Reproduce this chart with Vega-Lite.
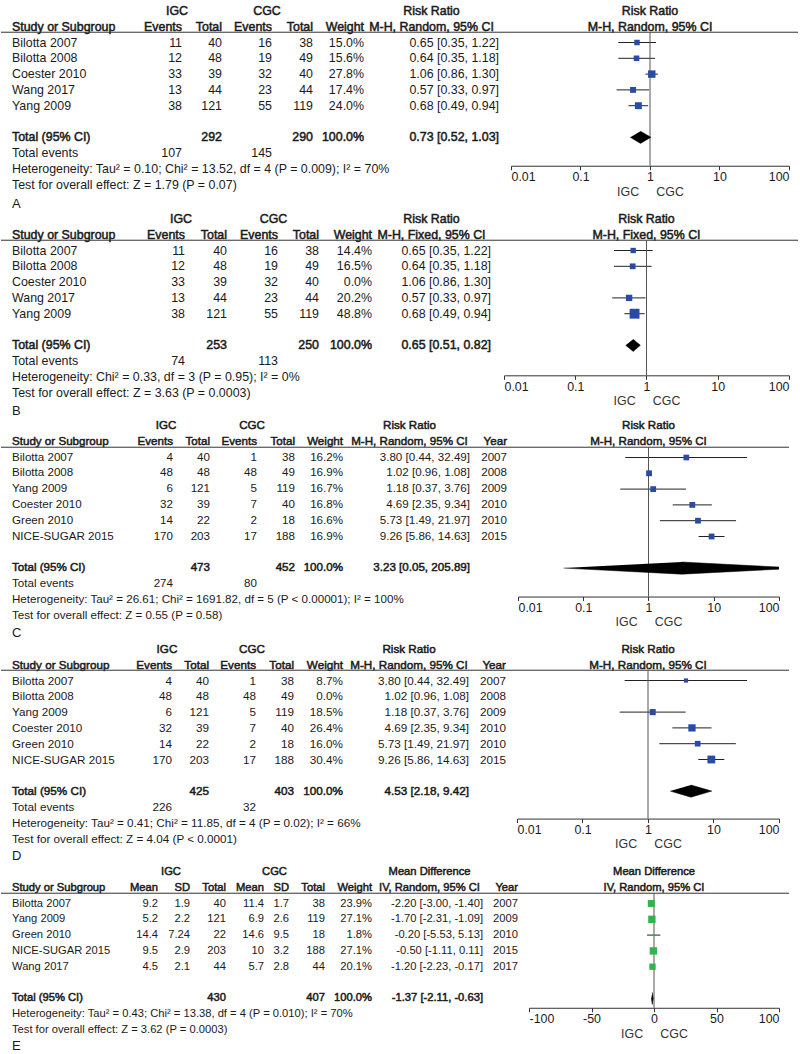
{
"$schema":"https://vega.github.io/schema/vega-lite/v6.json",
"padding":{"left":0,"top":3,"right":0,"bottom":0},
"background":"white",
"bounds":"full",
"spacing":0,
"datasets":{
"tA":[
{"row":"h1","n1":"IGC","n2":"CGC","ci":"Risk Ratio"},
{"row":"h2","study":"Study or Subgroup","e1":"Events","n1":"Total","e2":"Events","n2":"Total","w":"Weight","ci":"M-H, Random, 95% CI"},
{"row":"Bilotta 2007","study":"Bilotta 2007","e1":"11","n1":"40","e2":"16","n2":"38","w":"15.0%","ci":"0.65 [0.35, 1.22]"},
{"row":"Bilotta 2008","study":"Bilotta 2008","e1":"12","n1":"48","e2":"19","n2":"49","w":"15.6%","ci":"0.64 [0.35, 1.18]"},
{"row":"Coester 2010","study":"Coester 2010","e1":"33","n1":"39","e2":"32","n2":"40","w":"27.8%","ci":"1.06 [0.86, 1.30]"},
{"row":"Wang 2017","study":"Wang 2017","e1":"13","n1":"44","e2":"23","n2":"44","w":"17.4%","ci":"0.57 [0.33, 0.97]"},
{"row":"Yang 2009","study":"Yang 2009","e1":"38","n1":"121","e2":"55","n2":"119","w":"24.0%","ci":"0.68 [0.49, 0.94]"},
{"row":"Total (95% CI)","study":"Total (95% CI)","n1":"292","n2":"290","w":"100.0%","ci":"0.73 [0.52, 1.03]"},
{"row":"Total events","study":"Total events","e1":"107","e2":"145"},
{"row":"het","study":"Heterogeneity: Tau² = 0.10; Chi² = 13.52, df = 4 (P = 0.009); I² = 70%"},
{"row":"test","study":"Test for overall effect: Z = 1.79 (P = 0.07)"},
{"row":"lab","study":"A"}],
"tB":[
{"row":"h1","n1":"IGC","n2":"CGC","ci":"Risk Ratio"},
{"row":"h2","study":"Study or Subgroup","e1":"Events","n1":"Total","e2":"Events","n2":"Total","w":"Weight","ci":"M-H, Fixed, 95% CI"},
{"row":"Bilotta 2007","study":"Bilotta 2007","e1":"11","n1":"40","e2":"16","n2":"38","w":"14.4%","ci":"0.65 [0.35, 1.22]"},
{"row":"Bilotta 2008","study":"Bilotta 2008","e1":"12","n1":"48","e2":"19","n2":"49","w":"16.5%","ci":"0.64 [0.35, 1.18]"},
{"row":"Coester 2010","study":"Coester 2010","e1":"33","n1":"39","e2":"32","n2":"40","w":"0.0%","ci":"1.06 [0.86, 1.30]"},
{"row":"Wang 2017","study":"Wang 2017","e1":"13","n1":"44","e2":"23","n2":"44","w":"20.2%","ci":"0.57 [0.33, 0.97]"},
{"row":"Yang 2009","study":"Yang 2009","e1":"38","n1":"121","e2":"55","n2":"119","w":"48.8%","ci":"0.68 [0.49, 0.94]"},
{"row":"Total (95% CI)","study":"Total (95% CI)","n1":"253","n2":"250","w":"100.0%","ci":"0.65 [0.51, 0.82]"},
{"row":"Total events","study":"Total events","e1":"74","e2":"113"},
{"row":"het","study":"Heterogeneity: Chi² = 0.33, df = 3 (P = 0.95); I² = 0%"},
{"row":"test","study":"Test for overall effect: Z = 3.63 (P = 0.0003)"},
{"row":"lab","study":"B"}],
"tC":[
{"row":"h1","n1":"IGC","n2":"CGC","ci":"Risk Ratio"},
{"row":"h2","study":"Study or Subgroup","e1":"Events","n1":"Total","e2":"Events","n2":"Total","w":"Weight","ci":"M-H, Random, 95% CI","yr":"Year"},
{"row":"Bilotta 2007","study":"Bilotta 2007","e1":"4","n1":"40","e2":"1","n2":"38","w":"16.2%","ci":"3.80 [0.44, 32.49]","yr":"2007"},
{"row":"Bilotta 2008","study":"Bilotta 2008","e1":"48","n1":"48","e2":"48","n2":"49","w":"16.9%","ci":"1.02 [0.96, 1.08]","yr":"2008"},
{"row":"Yang 2009","study":"Yang 2009","e1":"6","n1":"121","e2":"5","n2":"119","w":"16.7%","ci":"1.18 [0.37, 3.76]","yr":"2009"},
{"row":"Coester 2010","study":"Coester 2010","e1":"32","n1":"39","e2":"7","n2":"40","w":"16.8%","ci":"4.69 [2.35, 9.34]","yr":"2010"},
{"row":"Green 2010","study":"Green 2010","e1":"14","n1":"22","e2":"2","n2":"18","w":"16.6%","ci":"5.73 [1.49, 21.97]","yr":"2010"},
{"row":"NICE-SUGAR 2015","study":"NICE-SUGAR 2015","e1":"170","n1":"203","e2":"17","n2":"188","w":"16.9%","ci":"9.26 [5.86, 14.63]","yr":"2015"},
{"row":"Total (95% CI)","study":"Total (95% CI)","n1":"473","n2":"452","w":"100.0%","ci":"3.23 [0.05, 205.89]"},
{"row":"Total events","study":"Total events","e1":"274","e2":"80"},
{"row":"het","study":"Heterogeneity: Tau² = 26.61; Chi² = 1691.82, df = 5 (P < 0.00001); I² = 100%"},
{"row":"test","study":"Test for overall effect: Z = 0.55 (P = 0.58)"},
{"row":"lab","study":"C"}],
"tD":[
{"row":"h1","n1":"IGC","n2":"CGC","ci":"Risk Ratio"},
{"row":"h2","study":"Study or Subgroup","e1":"Events","n1":"Total","e2":"Events","n2":"Total","w":"Weight","ci":"M-H, Random, 95% CI","yr":"Year"},
{"row":"Bilotta 2007","study":"Bilotta 2007","e1":"4","n1":"40","e2":"1","n2":"38","w":"8.7%","ci":"3.80 [0.44, 32.49]","yr":"2007"},
{"row":"Bilotta 2008","study":"Bilotta 2008","e1":"48","n1":"48","e2":"48","n2":"49","w":"0.0%","ci":"1.02 [0.96, 1.08]","yr":"2008"},
{"row":"Yang 2009","study":"Yang 2009","e1":"6","n1":"121","e2":"5","n2":"119","w":"18.5%","ci":"1.18 [0.37, 3.76]","yr":"2009"},
{"row":"Coester 2010","study":"Coester 2010","e1":"32","n1":"39","e2":"7","n2":"40","w":"26.4%","ci":"4.69 [2.35, 9.34]","yr":"2010"},
{"row":"Green 2010","study":"Green 2010","e1":"14","n1":"22","e2":"2","n2":"18","w":"16.0%","ci":"5.73 [1.49, 21.97]","yr":"2010"},
{"row":"NICE-SUGAR 2015","study":"NICE-SUGAR 2015","e1":"170","n1":"203","e2":"17","n2":"188","w":"30.4%","ci":"9.26 [5.86, 14.63]","yr":"2015"},
{"row":"Total (95% CI)","study":"Total (95% CI)","n1":"425","n2":"403","w":"100.0%","ci":"4.53 [2.18, 9.42]"},
{"row":"Total events","study":"Total events","e1":"226","e2":"32"},
{"row":"het","study":"Heterogeneity: Tau² = 0.41; Chi² = 11.85, df = 4 (P = 0.02); I² = 66%"},
{"row":"test","study":"Test for overall effect: Z = 4.04 (P < 0.0001)"},
{"row":"lab","study":"D"}],
"tE":[
{"row":"h1","s1":"IGC","s2":"CGC","ci":"Mean Difference"},
{"row":"h2","study":"Study or Subgroup","m1":"Mean","s1":"SD","n1":"Total","m2":"Mean","s2":"SD","n2":"Total","w":"Weight","ci":"IV, Random, 95% CI","yr":"Year"},
{"row":"Bilotta 2007","study":"Bilotta 2007","m1":"9.2","s1":"1.9","n1":"40","m2":"11.4","s2":"1.7","n2":"38","w":"23.9%","ci":"-2.20 [-3.00, -1.40]","yr":"2007"},
{"row":"Yang 2009","study":"Yang 2009","m1":"5.2","s1":"2.2","n1":"121","m2":"6.9","s2":"2.6","n2":"119","w":"27.1%","ci":"-1.70 [-2.31, -1.09]","yr":"2009"},
{"row":"Green 2010","study":"Green 2010","m1":"14.4","s1":"7.24","n1":"22","m2":"14.6","s2":"9.5","n2":"18","w":"1.8%","ci":"-0.20 [-5.53, 5.13]","yr":"2010"},
{"row":"NICE-SUGAR 2015","study":"NICE-SUGAR 2015","m1":"9.5","s1":"2.9","n1":"203","m2":"10","s2":"3.2","n2":"188","w":"27.1%","ci":"-0.50 [-1.11, 0.11]","yr":"2015"},
{"row":"Wang 2017","study":"Wang 2017","m1":"4.5","s1":"2.1","n1":"44","m2":"5.7","s2":"2.8","n2":"44","w":"20.1%","ci":"-1.20 [-2.23, -0.17]","yr":"2017"},
{"row":"Total (95% CI)","study":"Total (95% CI)","n1":"430","n2":"407","w":"100.0%","ci":"-1.37 [-2.11, -0.63]"},
{"row":"het","study":"Heterogeneity: Tau² = 0.43; Chi² = 13.38, df = 4 (P = 0.010); I² = 70%"},
{"row":"test","study":"Test for overall effect: Z = 3.62 (P = 0.0003)"},
{"row":"lab","study":"E"}],
"fA":[
{"row":"Bilotta 2007","est":0.65,"lo":0.35,"hi":1.22,"wt":15.0},
{"row":"Bilotta 2008","est":0.64,"lo":0.35,"hi":1.18,"wt":15.6},
{"row":"Coester 2010","est":1.06,"lo":0.86,"hi":1.30,"wt":27.8},
{"row":"Wang 2017","est":0.57,"lo":0.33,"hi":0.97,"wt":17.4},
{"row":"Yang 2009","est":0.68,"lo":0.49,"hi":0.94,"wt":24.0}],
"fB":[
{"row":"Bilotta 2007","est":0.65,"lo":0.35,"hi":1.22,"wt":14.4},
{"row":"Bilotta 2008","est":0.64,"lo":0.35,"hi":1.18,"wt":16.5},
{"row":"Coester 2010","est":1.06,"lo":0.86,"hi":1.30,"wt":0.0},
{"row":"Wang 2017","est":0.57,"lo":0.33,"hi":0.97,"wt":20.2},
{"row":"Yang 2009","est":0.68,"lo":0.49,"hi":0.94,"wt":48.8}],
"fC":[
{"row":"Bilotta 2007","est":3.80,"lo":0.44,"hi":32.49,"wt":16.2},
{"row":"Bilotta 2008","est":1.02,"lo":0.96,"hi":1.08,"wt":16.9},
{"row":"Yang 2009","est":1.18,"lo":0.37,"hi":3.76,"wt":16.7},
{"row":"Coester 2010","est":4.69,"lo":2.35,"hi":9.34,"wt":16.8},
{"row":"Green 2010","est":5.73,"lo":1.49,"hi":21.97,"wt":16.6},
{"row":"NICE-SUGAR 2015","est":9.26,"lo":5.86,"hi":14.63,"wt":16.9}],
"fD":[
{"row":"Bilotta 2007","est":3.80,"lo":0.44,"hi":32.49,"wt":8.7},
{"row":"Bilotta 2008","est":1.02,"lo":0.96,"hi":1.08,"wt":0.0},
{"row":"Yang 2009","est":1.18,"lo":0.37,"hi":3.76,"wt":18.5},
{"row":"Coester 2010","est":4.69,"lo":2.35,"hi":9.34,"wt":26.4},
{"row":"Green 2010","est":5.73,"lo":1.49,"hi":21.97,"wt":16.0},
{"row":"NICE-SUGAR 2015","est":9.26,"lo":5.86,"hi":14.63,"wt":30.4}],
"fE":[
{"row":"Bilotta 2007","est":-2.20,"lo":-3.00,"hi":-1.40,"wt":23.9},
{"row":"Yang 2009","est":-1.70,"lo":-2.31,"hi":-1.09,"wt":27.1},
{"row":"Green 2010","est":-0.20,"lo":-5.53,"hi":5.13,"wt":1.8},
{"row":"NICE-SUGAR 2015","est":-0.50,"lo":-1.11,"hi":0.11,"wt":27.1},
{"row":"Wang 2017","est":-1.20,"lo":-2.23,"hi":-0.17,"wt":20.1}],
"dA":[{"row":"Total (95% CI)","k":1,"x":0.52,"v":0},{"row":"Total (95% CI)","k":2,"x":0.73,"v":1},{"row":"Total (95% CI)","k":3,"x":1.03,"v":0},{"row":"Total (95% CI)","k":4,"x":0.73,"v":-1}],
"dB":[{"row":"Total (95% CI)","k":1,"x":0.51,"v":0},{"row":"Total (95% CI)","k":2,"x":0.65,"v":1},{"row":"Total (95% CI)","k":3,"x":0.82,"v":0},{"row":"Total (95% CI)","k":4,"x":0.65,"v":-1}],
"dC":[{"row":"Total (95% CI)","k":1,"x":0.05,"v":0},{"row":"Total (95% CI)","k":2,"x":3.23,"v":1},{"row":"Total (95% CI)","k":3,"x":205.89,"v":0},{"row":"Total (95% CI)","k":4,"x":3.23,"v":-1}],
"dD":[{"row":"Total (95% CI)","k":1,"x":2.18,"v":0},{"row":"Total (95% CI)","k":2,"x":4.53,"v":1},{"row":"Total (95% CI)","k":3,"x":9.42,"v":0},{"row":"Total (95% CI)","k":4,"x":4.53,"v":-1}],
"dE":[{"row":"Total (95% CI)","k":1,"x":-2.11,"v":0},{"row":"Total (95% CI)","k":2,"x":-1.37,"v":1},{"row":"Total (95% CI)","k":3,"x":-0.63,"v":0},{"row":"Total (95% CI)","k":4,"x":-1.37,"v":-1}]
},
"vconcat":[
{"spacing":0,"bounds":"flush","hconcat":[
{"width":142,"height":{"step":15.8},"data":{"name":"tA"},"layer":[
{"transform":[{"filter":"isValid(datum.study)&&datum.row!='lab'"}],"mark":{"type":"text","align":"left","dx":11,"stroke":"#1a1a1a"},"encoding":{"x":{"value":0},"y":{"field":"row","type":"nominal","bandPosition":0.5,"scale":{"type":"band","domain":["h1","h2","Bilotta 2007","Bilotta 2008","Coester 2010","Wang 2017","Yang 2009","gap","Total (95% CI)","Total events","het","test","lab"],"paddingInner":0,"paddingOuter":0.05,"align":0},"axis":null},"text":{"field":"study"},"strokeWidth":{"condition":{"test":"datum.row=='h2'||datum.row=='Total (95% CI)'","value":0.5},"value":0}}},
{"transform":[{"filter":"datum.row=='lab'"}],"mark":{"type":"text","align":"left","dx":11,"dy":3,"fontSize":13},"encoding":{"x":{"value":0},"y":{"field":"row","type":"nominal","bandPosition":0.5},"text":{"field":"study"}}},
{"data":{"values":[{}]},"mark":"rule","encoding":{"y":{"datum":"h2","type":"nominal","bandPosition":0.85}}}]},
{"width":39,"height":{"step":15.8},"data":{"name":"tA"},"layer":[
{"transform":[{"filter":"isValid(datum.e1)&&datum.row!='h1'"}],"mark":{"type":"text","align":"right","stroke":"#1a1a1a"},"encoding":{"x":{"value":"width"},"y":{"field":"row","type":"nominal","bandPosition":0.5,"scale":{"type":"band","domain":["h1","h2","Bilotta 2007","Bilotta 2008","Coester 2010","Wang 2017","Yang 2009","gap","Total (95% CI)","Total events","het","test","lab"],"paddingInner":0,"paddingOuter":0},"axis":null},"text":{"field":"e1"},"strokeWidth":{"condition":{"test":"datum.row=='h2'||datum.row=='Total (95% CI)'","value":0.5},"value":0}}},
{"data":{"values":[{}]},"mark":"rule","encoding":{"y":{"datum":"h2","type":"nominal","bandPosition":0.85}}}]},
{"width":40,"height":{"step":15.8},"data":{"name":"tA"},"layer":[
{"transform":[{"filter":"isValid(datum.n1)&&datum.row!='h1'"}],"mark":{"type":"text","align":"right","stroke":"#1a1a1a"},"encoding":{"x":{"value":"width"},"y":{"field":"row","type":"nominal","bandPosition":0.5,"scale":{"type":"band","domain":["h1","h2","Bilotta 2007","Bilotta 2008","Coester 2010","Wang 2017","Yang 2009","gap","Total (95% CI)","Total events","het","test","lab"],"paddingInner":0,"paddingOuter":0},"axis":null},"text":{"field":"n1"},"strokeWidth":{"condition":{"test":"datum.row=='h2'||datum.row=='Total (95% CI)'","value":0.5},"value":0}}},
{"transform":[{"filter":"datum.row=='h1'"}],"mark":{"type":"text","align":"center","dx":-5,"stroke":"#1a1a1a","strokeWidth":0.5},"encoding":{"x":{"value":0},"y":{"field":"row","type":"nominal","bandPosition":0.5},"text":{"field":"n1"}}},
{"data":{"values":[{}]},"mark":"rule","encoding":{"y":{"datum":"h2","type":"nominal","bandPosition":0.85}}}]},
{"width":50,"height":{"step":15.8},"data":{"name":"tA"},"layer":[
{"transform":[{"filter":"isValid(datum.e2)&&datum.row!='h1'"}],"mark":{"type":"text","align":"right","stroke":"#1a1a1a"},"encoding":{"x":{"value":"width"},"y":{"field":"row","type":"nominal","bandPosition":0.5,"scale":{"type":"band","domain":["h1","h2","Bilotta 2007","Bilotta 2008","Coester 2010","Wang 2017","Yang 2009","gap","Total (95% CI)","Total events","het","test","lab"],"paddingInner":0,"paddingOuter":0},"axis":null},"text":{"field":"e2"},"strokeWidth":{"condition":{"test":"datum.row=='h2'||datum.row=='Total (95% CI)'","value":0.5},"value":0}}},
{"data":{"values":[{}]},"mark":"rule","encoding":{"y":{"datum":"h2","type":"nominal","bandPosition":0.85}}}]},
{"width":41,"height":{"step":15.8},"data":{"name":"tA"},"layer":[
{"transform":[{"filter":"isValid(datum.n2)&&datum.row!='h1'"}],"mark":{"type":"text","align":"right","stroke":"#1a1a1a"},"encoding":{"x":{"value":"width"},"y":{"field":"row","type":"nominal","bandPosition":0.5,"scale":{"type":"band","domain":["h1","h2","Bilotta 2007","Bilotta 2008","Coester 2010","Wang 2017","Yang 2009","gap","Total (95% CI)","Total events","het","test","lab"],"paddingInner":0,"paddingOuter":0},"axis":null},"text":{"field":"n2"},"strokeWidth":{"condition":{"test":"datum.row=='h2'||datum.row=='Total (95% CI)'","value":0.5},"value":0}}},
{"transform":[{"filter":"datum.row=='h1'"}],"mark":{"type":"text","align":"center","dx":-5,"stroke":"#1a1a1a","strokeWidth":0.5},"encoding":{"x":{"value":0},"y":{"field":"row","type":"nominal","bandPosition":0.5},"text":{"field":"n2"}}},
{"data":{"values":[{}]},"mark":"rule","encoding":{"y":{"datum":"h2","type":"nominal","bandPosition":0.85}}}]},
{"width":51,"height":{"step":15.8},"data":{"name":"tA"},"layer":[
{"transform":[{"filter":"isValid(datum.w)&&datum.row!='h1'"}],"mark":{"type":"text","align":"right","stroke":"#1a1a1a"},"encoding":{"x":{"value":"width"},"y":{"field":"row","type":"nominal","bandPosition":0.5,"scale":{"type":"band","domain":["h1","h2","Bilotta 2007","Bilotta 2008","Coester 2010","Wang 2017","Yang 2009","gap","Total (95% CI)","Total events","het","test","lab"],"paddingInner":0,"paddingOuter":0},"axis":null},"text":{"field":"w"},"strokeWidth":{"condition":{"test":"datum.row=='h2'||datum.row=='Total (95% CI)'","value":0.5},"value":0}}},
{"data":{"values":[{}]},"mark":"rule","encoding":{"y":{"datum":"h2","type":"nominal","bandPosition":0.85}}}]},
{"width":135,"height":{"step":15.8},"data":{"name":"tA"},"layer":[
{"transform":[{"filter":"isValid(datum.ci)&&datum.row!='h1'&&datum.row!='h2'"}],"mark":{"type":"text","align":"right","stroke":"#1a1a1a"},"encoding":{"x":{"value":"width"},"y":{"field":"row","type":"nominal","bandPosition":0.5,"scale":{"type":"band","domain":["h1","h2","Bilotta 2007","Bilotta 2008","Coester 2010","Wang 2017","Yang 2009","gap","Total (95% CI)","Total events","het","test","lab"],"paddingInner":0,"paddingOuter":0},"axis":null},"text":{"field":"ci"},"strokeWidth":{"condition":{"test":"datum.row=='h2'||datum.row=='Total (95% CI)'","value":0.5},"value":0}}},
{"transform":[{"filter":"datum.row=='h1'||datum.row=='h2'"}],"mark":{"type":"text","align":"center","stroke":"#1a1a1a","strokeWidth":0.5},"encoding":{"y":{"field":"row","type":"nominal","bandPosition":0.5},"text":{"field":"ci"}}},
{"data":{"values":[{}]},"mark":"rule","encoding":{"y":{"datum":"h2","type":"nominal","bandPosition":0.85}}}]},
{"width":12,"height":{"step":15.8},"data":{"values":[{}]},"mark":"rule","encoding":{"y":{"datum":"h2","type":"nominal","bandPosition":0.85,"scale":{"type":"band","domain":["h1","h2","Bilotta 2007","Bilotta 2008","Coester 2010","Wang 2017","Yang 2009","gap","Total (95% CI)","Total events","het","test","lab"],"paddingInner":0,"paddingOuter":0},"axis":null}}},
{"width":278,"height":{"step":15.8},"layer":[
{"data":{"name":"tA"},"transform":[{"filter":"datum.row=='h1'||datum.row=='h2'"}],"mark":{"type":"text","align":"center","stroke":"#1a1a1a","strokeWidth":0.5},"encoding":{"y":{"field":"row","type":"nominal","bandPosition":0.5,"scale":{"type":"band","domain":["h1","h2","Bilotta 2007","Bilotta 2008","Coester 2010","Wang 2017","Yang 2009","gap","Total (95% CI)","Total events"],"paddingInner":0,"paddingOuter":0.15,"align":0},"axis":null},"text":{"field":"ci"}}},
{"data":{"values":[{}]},"mark":"rule","encoding":{"y":{"datum":"h2","type":"nominal","bandPosition":0.85}}},
{"data":{"name":"fA"},"transform":[{"filter":"datum.wt>0"}],"mark":{"type":"rule","color":"#222"},"encoding":{"x":{"field":"lo","type":"quantitative","title":"IGC\u00a0\u00a0\u00a0\u00a0\u00a0CGC","scale":{"type":"log","domain":[0.01,100],"nice":false},"axis":{"values":[0.01,0.1,1,10,100],"format":"~g"}},"x2":{"field":"hi"},"y":{"field":"row","type":"nominal","bandPosition":0.5}}},
{"data":{"values":[{}]},"mark":{"type":"rule","color":"#555"},"encoding":{"x":{"datum":1,"type":"quantitative","title":"IGC\u00a0\u00a0\u00a0\u00a0\u00a0CGC"},"y":{"datum":"h2","type":"nominal","bandPosition":0.85},"y2":{"value":"height"}}},
{"data":{"name":"fA"},"transform":[{"filter":"datum.wt>0"}],"mark":{"type":"square","color":"#2a4aa8","opacity":1},"encoding":{"x":{"field":"est","type":"quantitative","title":"IGC\u00a0\u00a0\u00a0\u00a0\u00a0CGC"},"y":{"field":"row","type":"nominal","bandPosition":0.5},"size":{"field":"wt","type":"quantitative","scale":{"domain":[0,100],"range":[0,200]},"legend":null}}},
{"data":{"name":"dA"},"mark":{"type":"line","filled":true,"fill":"#000","stroke":"#000","strokeWidth":0.5,"clip":true},"encoding":{"x":{"field":"x","type":"quantitative","title":"IGC\u00a0\u00a0\u00a0\u00a0\u00a0CGC"},"y":{"field":"row","type":"nominal"},"yOffset":{"field":"v","type":"quantitative","scale":{"domain":[-1.3,1.3]}},"order":{"field":"k"}}}]},
{"width":9,"height":{"step":15.8},"data":{"values":[{}]},"mark":"rule","encoding":{"y":{"datum":"h2","type":"nominal","bandPosition":0.85,"scale":{"type":"band","domain":["h1","h2","Bilotta 2007","Bilotta 2008","Coester 2010","Wang 2017","Yang 2009","gap","Total (95% CI)","Total events","het","test","lab"],"paddingInner":0,"paddingOuter":0},"axis":null}}}
]},

{"spacing":0,"bounds":"flush","hconcat":[
{"width":145,"height":{"step":15.8},"data":{"name":"tB"},"layer":[
{"transform":[{"filter":"isValid(datum.study)&&datum.row!='lab'"}],"mark":{"type":"text","align":"left","dx":11,"stroke":"#1a1a1a"},"encoding":{"x":{"value":0},"y":{"field":"row","type":"nominal","bandPosition":0.5,"scale":{"type":"band","domain":["h1","h2","Bilotta 2007","Bilotta 2008","Coester 2010","Wang 2017","Yang 2009","gap","Total (95% CI)","Total events","het","test","lab"],"paddingInner":0,"paddingOuter":0.05,"align":0},"axis":null},"text":{"field":"study"},"strokeWidth":{"condition":{"test":"datum.row=='h2'||datum.row=='Total (95% CI)'","value":0.5},"value":0}}},
{"transform":[{"filter":"datum.row=='lab'"}],"mark":{"type":"text","align":"left","dx":11,"dy":2.5,"fontSize":13},"encoding":{"x":{"value":0},"y":{"field":"row","type":"nominal","bandPosition":0.5},"text":{"field":"study"}}},
{"data":{"values":[{}]},"mark":"rule","encoding":{"y":{"datum":"h2","type":"nominal","bandPosition":0.85}}}]},
{"width":39,"height":{"step":15.8},"data":{"name":"tB"},"layer":[
{"transform":[{"filter":"isValid(datum.e1)&&datum.row!='h1'"}],"mark":{"type":"text","align":"right","stroke":"#1a1a1a"},"encoding":{"x":{"value":"width"},"y":{"field":"row","type":"nominal","bandPosition":0.5,"scale":{"type":"band","domain":["h1","h2","Bilotta 2007","Bilotta 2008","Coester 2010","Wang 2017","Yang 2009","gap","Total (95% CI)","Total events","het","test","lab"],"paddingInner":0,"paddingOuter":0},"axis":null},"text":{"field":"e1"},"strokeWidth":{"condition":{"test":"datum.row=='h2'||datum.row=='Total (95% CI)'","value":0.5},"value":0}}},
{"data":{"values":[{}]},"mark":"rule","encoding":{"y":{"datum":"h2","type":"nominal","bandPosition":0.85}}}]},
{"width":42,"height":{"step":15.8},"data":{"name":"tB"},"layer":[
{"transform":[{"filter":"isValid(datum.n1)&&datum.row!='h1'"}],"mark":{"type":"text","align":"right","stroke":"#1a1a1a"},"encoding":{"x":{"value":"width"},"y":{"field":"row","type":"nominal","bandPosition":0.5,"scale":{"type":"band","domain":["h1","h2","Bilotta 2007","Bilotta 2008","Coester 2010","Wang 2017","Yang 2009","gap","Total (95% CI)","Total events","het","test","lab"],"paddingInner":0,"paddingOuter":0},"axis":null},"text":{"field":"n1"},"strokeWidth":{"condition":{"test":"datum.row=='h2'||datum.row=='Total (95% CI)'","value":0.5},"value":0}}},
{"transform":[{"filter":"datum.row=='h1'"}],"mark":{"type":"text","align":"center","dx":-4,"stroke":"#1a1a1a","strokeWidth":0.5},"encoding":{"x":{"value":0},"y":{"field":"row","type":"nominal","bandPosition":0.5},"text":{"field":"n1"}}},
{"data":{"values":[{}]},"mark":"rule","encoding":{"y":{"datum":"h2","type":"nominal","bandPosition":0.85}}}]},
{"width":51,"height":{"step":15.8},"data":{"name":"tB"},"layer":[
{"transform":[{"filter":"isValid(datum.e2)&&datum.row!='h1'"}],"mark":{"type":"text","align":"right","stroke":"#1a1a1a"},"encoding":{"x":{"value":"width"},"y":{"field":"row","type":"nominal","bandPosition":0.5,"scale":{"type":"band","domain":["h1","h2","Bilotta 2007","Bilotta 2008","Coester 2010","Wang 2017","Yang 2009","gap","Total (95% CI)","Total events","het","test","lab"],"paddingInner":0,"paddingOuter":0},"axis":null},"text":{"field":"e2"},"strokeWidth":{"condition":{"test":"datum.row=='h2'||datum.row=='Total (95% CI)'","value":0.5},"value":0}}},
{"data":{"values":[{}]},"mark":"rule","encoding":{"y":{"datum":"h2","type":"nominal","bandPosition":0.85}}}]},
{"width":41,"height":{"step":15.8},"data":{"name":"tB"},"layer":[
{"transform":[{"filter":"isValid(datum.n2)&&datum.row!='h1'"}],"mark":{"type":"text","align":"right","stroke":"#1a1a1a"},"encoding":{"x":{"value":"width"},"y":{"field":"row","type":"nominal","bandPosition":0.5,"scale":{"type":"band","domain":["h1","h2","Bilotta 2007","Bilotta 2008","Coester 2010","Wang 2017","Yang 2009","gap","Total (95% CI)","Total events","het","test","lab"],"paddingInner":0,"paddingOuter":0},"axis":null},"text":{"field":"n2"},"strokeWidth":{"condition":{"test":"datum.row=='h2'||datum.row=='Total (95% CI)'","value":0.5},"value":0}}},
{"transform":[{"filter":"datum.row=='h1'"}],"mark":{"type":"text","align":"center","dx":-4.5,"stroke":"#1a1a1a","strokeWidth":0.5},"encoding":{"x":{"value":0},"y":{"field":"row","type":"nominal","bandPosition":0.5},"text":{"field":"n2"}}},
{"data":{"values":[{}]},"mark":"rule","encoding":{"y":{"datum":"h2","type":"nominal","bandPosition":0.85}}}]},
{"width":53,"height":{"step":15.8},"data":{"name":"tB"},"layer":[
{"transform":[{"filter":"isValid(datum.w)&&datum.row!='h1'"}],"mark":{"type":"text","align":"right","stroke":"#1a1a1a"},"encoding":{"x":{"value":"width"},"y":{"field":"row","type":"nominal","bandPosition":0.5,"scale":{"type":"band","domain":["h1","h2","Bilotta 2007","Bilotta 2008","Coester 2010","Wang 2017","Yang 2009","gap","Total (95% CI)","Total events","het","test","lab"],"paddingInner":0,"paddingOuter":0},"axis":null},"text":{"field":"w"},"strokeWidth":{"condition":{"test":"datum.row=='h2'||datum.row=='Total (95% CI)'","value":0.5},"value":0}}},
{"data":{"values":[{}]},"mark":"rule","encoding":{"y":{"datum":"h2","type":"nominal","bandPosition":0.85}}}]},
{"width":119,"height":{"step":15.8},"data":{"name":"tB"},"layer":[
{"transform":[{"filter":"isValid(datum.ci)&&datum.row!='h1'&&datum.row!='h2'"}],"mark":{"type":"text","align":"right","stroke":"#1a1a1a"},"encoding":{"x":{"value":"width"},"y":{"field":"row","type":"nominal","bandPosition":0.5,"scale":{"type":"band","domain":["h1","h2","Bilotta 2007","Bilotta 2008","Coester 2010","Wang 2017","Yang 2009","gap","Total (95% CI)","Total events","het","test","lab"],"paddingInner":0,"paddingOuter":0},"axis":null},"text":{"field":"ci"},"strokeWidth":{"condition":{"test":"datum.row=='h2'||datum.row=='Total (95% CI)'","value":0.5},"value":0}}},
{"transform":[{"filter":"datum.row=='h1'||datum.row=='h2'"}],"mark":{"type":"text","align":"center","stroke":"#1a1a1a","strokeWidth":0.5},"encoding":{"y":{"field":"row","type":"nominal","bandPosition":0.5},"text":{"field":"ci"}}},
{"data":{"values":[{}]},"mark":"rule","encoding":{"y":{"datum":"h2","type":"nominal","bandPosition":0.85}}}]},
{"width":13,"height":{"step":15.8},"data":{"values":[{}]},"mark":"rule","encoding":{"y":{"datum":"h2","type":"nominal","bandPosition":0.85,"scale":{"type":"band","domain":["h1","h2","Bilotta 2007","Bilotta 2008","Coester 2010","Wang 2017","Yang 2009","gap","Total (95% CI)","Total events","het","test","lab"],"paddingInner":0,"paddingOuter":0},"axis":null}}},
{"width":285,"height":{"step":15.8},"layer":[
{"data":{"name":"tB"},"transform":[{"filter":"datum.row=='h1'||datum.row=='h2'"}],"mark":{"type":"text","align":"center","stroke":"#1a1a1a","strokeWidth":0.5},"encoding":{"y":{"field":"row","type":"nominal","bandPosition":0.5,"scale":{"type":"band","domain":["h1","h2","Bilotta 2007","Bilotta 2008","Coester 2010","Wang 2017","Yang 2009","gap","Total (95% CI)","Total events"],"paddingInner":0,"paddingOuter":0.2,"align":0},"axis":null},"text":{"field":"ci"}}},
{"data":{"values":[{}]},"mark":"rule","encoding":{"y":{"datum":"h2","type":"nominal","bandPosition":0.85}}},
{"data":{"name":"fB"},"transform":[{"filter":"datum.wt>0"}],"mark":{"type":"rule","color":"#222"},"encoding":{"x":{"field":"lo","type":"quantitative","title":"IGC\u00a0\u00a0\u00a0\u00a0\u00a0CGC","scale":{"type":"log","domain":[0.01,100],"nice":false},"axis":{"values":[0.01,0.1,1,10,100],"format":"~g"}},"x2":{"field":"hi"},"y":{"field":"row","type":"nominal","bandPosition":0.5}}},
{"data":{"values":[{}]},"mark":{"type":"rule","color":"#555"},"encoding":{"x":{"datum":1,"type":"quantitative","title":"IGC\u00a0\u00a0\u00a0\u00a0\u00a0CGC"},"y":{"datum":"h2","type":"nominal","bandPosition":0.85},"y2":{"value":"height"}}},
{"data":{"name":"fB"},"transform":[{"filter":"datum.wt>0"}],"mark":{"type":"square","color":"#2a4aa8","opacity":1},"encoding":{"x":{"field":"est","type":"quantitative","title":"IGC\u00a0\u00a0\u00a0\u00a0\u00a0CGC"},"y":{"field":"row","type":"nominal","bandPosition":0.5},"size":{"field":"wt","type":"quantitative","scale":{"domain":[0,100],"range":[0,200]},"legend":null}}},
{"data":{"name":"dB"},"mark":{"type":"line","filled":true,"fill":"#000","stroke":"#000","strokeWidth":0.5,"clip":true},"encoding":{"x":{"field":"x","type":"quantitative","title":"IGC\u00a0\u00a0\u00a0\u00a0\u00a0CGC"},"y":{"field":"row","type":"nominal"},"yOffset":{"field":"v","type":"quantitative","scale":{"domain":[-1.3,1.3]}},"order":{"field":"k"}}}]},
{"width":9,"height":{"step":15.8},"data":{"values":[{}]},"mark":"rule","encoding":{"y":{"datum":"h2","type":"nominal","bandPosition":0.85,"scale":{"type":"band","domain":["h1","h2","Bilotta 2007","Bilotta 2008","Coester 2010","Wang 2017","Yang 2009","gap","Total (95% CI)","Total events","het","test","lab"],"paddingInner":0,"paddingOuter":0},"axis":null}}}
]},

{"spacing":0,"bounds":"flush","hconcat":[
{"width":135,"height":{"step":15.8},"data":{"name":"tC"},"layer":[
{"transform":[{"filter":"isValid(datum.study)&&datum.row!='lab'"}],"mark":{"type":"text","align":"left","dx":11,"stroke":"#1a1a1a","fontSize":11.6},"encoding":{"x":{"value":0},"y":{"field":"row","type":"nominal","bandPosition":0.5,"scale":{"type":"band","domain":["h1","h2","Bilotta 2007","Bilotta 2008","Yang 2009","Coester 2010","Green 2010","NICE-SUGAR 2015","gap","Total (95% CI)","Total events","het","test","lab"],"paddingInner":0,"paddingOuter":0.025,"align":0},"axis":null},"text":{"field":"study"},"strokeWidth":{"condition":{"test":"datum.row=='h2'||datum.row=='Total (95% CI)'","value":0.5},"value":0}}},
{"transform":[{"filter":"datum.row=='lab'"}],"mark":{"type":"text","align":"left","dx":11,"dy":2,"fontSize":13},"encoding":{"x":{"value":0},"y":{"field":"row","type":"nominal","bandPosition":0.5},"text":{"field":"study"}}},
{"data":{"values":[{}]},"mark":"rule","encoding":{"y":{"datum":"h2","type":"nominal","bandPosition":0.85}}}]},
{"width":37,"height":{"step":15.8},"data":{"name":"tC"},"layer":[
{"transform":[{"filter":"isValid(datum.e1)&&datum.row!='h1'"}],"mark":{"type":"text","align":"right","stroke":"#1a1a1a","fontSize":11.6},"encoding":{"x":{"value":"width"},"y":{"field":"row","type":"nominal","bandPosition":0.5,"scale":{"type":"band","domain":["h1","h2","Bilotta 2007","Bilotta 2008","Yang 2009","Coester 2010","Green 2010","NICE-SUGAR 2015","gap","Total (95% CI)","Total events","het","test","lab"],"paddingInner":0,"paddingOuter":0},"axis":null},"text":{"field":"e1"},"strokeWidth":{"condition":{"test":"datum.row=='h2'||datum.row=='Total (95% CI)'","value":0.5},"value":0}}},
{"data":{"values":[{}]},"mark":"rule","encoding":{"y":{"datum":"h2","type":"nominal","bandPosition":0.85}}}]},
{"width":37,"height":{"step":15.8},"data":{"name":"tC"},"layer":[
{"transform":[{"filter":"isValid(datum.n1)&&datum.row!='h1'"}],"mark":{"type":"text","align":"right","stroke":"#1a1a1a","fontSize":11.6},"encoding":{"x":{"value":"width"},"y":{"field":"row","type":"nominal","bandPosition":0.5,"scale":{"type":"band","domain":["h1","h2","Bilotta 2007","Bilotta 2008","Yang 2009","Coester 2010","Green 2010","NICE-SUGAR 2015","gap","Total (95% CI)","Total events","het","test","lab"],"paddingInner":0,"paddingOuter":0},"axis":null},"text":{"field":"n1"},"strokeWidth":{"condition":{"test":"datum.row=='h2'||datum.row=='Total (95% CI)'","value":0.5},"value":0}}},
{"transform":[{"filter":"datum.row=='h1'"}],"mark":{"type":"text","align":"center","dx":-7,"stroke":"#1a1a1a","strokeWidth":0.5,"fontSize":11.6},"encoding":{"x":{"value":0},"y":{"field":"row","type":"nominal","bandPosition":0.5},"text":{"field":"n1"}}},
{"data":{"values":[{}]},"mark":"rule","encoding":{"y":{"datum":"h2","type":"nominal","bandPosition":0.85}}}]},
{"width":47,"height":{"step":15.8},"data":{"name":"tC"},"layer":[
{"transform":[{"filter":"isValid(datum.e2)&&datum.row!='h1'"}],"mark":{"type":"text","align":"right","stroke":"#1a1a1a","fontSize":11.6},"encoding":{"x":{"value":"width"},"y":{"field":"row","type":"nominal","bandPosition":0.5,"scale":{"type":"band","domain":["h1","h2","Bilotta 2007","Bilotta 2008","Yang 2009","Coester 2010","Green 2010","NICE-SUGAR 2015","gap","Total (95% CI)","Total events","het","test","lab"],"paddingInner":0,"paddingOuter":0},"axis":null},"text":{"field":"e2"},"strokeWidth":{"condition":{"test":"datum.row=='h2'||datum.row=='Total (95% CI)'","value":0.5},"value":0}}},
{"data":{"values":[{}]},"mark":"rule","encoding":{"y":{"datum":"h2","type":"nominal","bandPosition":0.85}}}]},
{"width":38,"height":{"step":15.8},"data":{"name":"tC"},"layer":[
{"transform":[{"filter":"isValid(datum.n2)&&datum.row!='h1'"}],"mark":{"type":"text","align":"right","stroke":"#1a1a1a","fontSize":11.6},"encoding":{"x":{"value":"width"},"y":{"field":"row","type":"nominal","bandPosition":0.5,"scale":{"type":"band","domain":["h1","h2","Bilotta 2007","Bilotta 2008","Yang 2009","Coester 2010","Green 2010","NICE-SUGAR 2015","gap","Total (95% CI)","Total events","het","test","lab"],"paddingInner":0,"paddingOuter":0},"axis":null},"text":{"field":"n2"},"strokeWidth":{"condition":{"test":"datum.row=='h2'||datum.row=='Total (95% CI)'","value":0.5},"value":0}}},
{"transform":[{"filter":"datum.row=='h1'"}],"mark":{"type":"text","align":"center","dx":-5,"stroke":"#1a1a1a","strokeWidth":0.5,"fontSize":11.6},"encoding":{"x":{"value":0},"y":{"field":"row","type":"nominal","bandPosition":0.5},"text":{"field":"n2"}}},
{"data":{"values":[{}]},"mark":"rule","encoding":{"y":{"datum":"h2","type":"nominal","bandPosition":0.85}}}]},
{"width":48,"height":{"step":15.8},"data":{"name":"tC"},"layer":[
{"transform":[{"filter":"isValid(datum.w)&&datum.row!='h1'"}],"mark":{"type":"text","align":"right","stroke":"#1a1a1a","fontSize":11.6},"encoding":{"x":{"value":"width"},"y":{"field":"row","type":"nominal","bandPosition":0.5,"scale":{"type":"band","domain":["h1","h2","Bilotta 2007","Bilotta 2008","Yang 2009","Coester 2010","Green 2010","NICE-SUGAR 2015","gap","Total (95% CI)","Total events","het","test","lab"],"paddingInner":0,"paddingOuter":0},"axis":null},"text":{"field":"w"},"strokeWidth":{"condition":{"test":"datum.row=='h2'||datum.row=='Total (95% CI)'","value":0.5},"value":0}}},
{"data":{"values":[{}]},"mark":"rule","encoding":{"y":{"datum":"h2","type":"nominal","bandPosition":0.85}}}]},
{"width":127,"height":{"step":15.8},"data":{"name":"tC"},"layer":[
{"transform":[{"filter":"isValid(datum.ci)&&datum.row!='h1'&&datum.row!='h2'"}],"mark":{"type":"text","align":"right","stroke":"#1a1a1a","fontSize":11.6},"encoding":{"x":{"value":"width"},"y":{"field":"row","type":"nominal","bandPosition":0.5,"scale":{"type":"band","domain":["h1","h2","Bilotta 2007","Bilotta 2008","Yang 2009","Coester 2010","Green 2010","NICE-SUGAR 2015","gap","Total (95% CI)","Total events","het","test","lab"],"paddingInner":0,"paddingOuter":0},"axis":null},"text":{"field":"ci"},"strokeWidth":{"condition":{"test":"datum.row=='h2'||datum.row=='Total (95% CI)'","value":0.5},"value":0}}},
{"transform":[{"filter":"datum.row=='h1'||datum.row=='h2'"}],"mark":{"type":"text","align":"center","dx":3,"stroke":"#1a1a1a","strokeWidth":0.5,"fontSize":11.6},"encoding":{"y":{"field":"row","type":"nominal","bandPosition":0.5},"text":{"field":"ci"}}},
{"data":{"values":[{}]},"mark":"rule","encoding":{"y":{"datum":"h2","type":"nominal","bandPosition":0.85}}}]},
{"width":37,"height":{"step":15.8},"data":{"name":"tC"},"layer":[
{"transform":[{"filter":"isValid(datum.yr)&&datum.row!='h1'"}],"mark":{"type":"text","align":"right","stroke":"#1a1a1a","fontSize":11.6},"encoding":{"x":{"value":"width"},"y":{"field":"row","type":"nominal","bandPosition":0.5,"scale":{"type":"band","domain":["h1","h2","Bilotta 2007","Bilotta 2008","Yang 2009","Coester 2010","Green 2010","NICE-SUGAR 2015","gap","Total (95% CI)","Total events","het","test","lab"],"paddingInner":0,"paddingOuter":0},"axis":null},"text":{"field":"yr"},"strokeWidth":{"condition":{"test":"datum.row=='h2'||datum.row=='Total (95% CI)'","value":0.5},"value":0}}},
{"data":{"values":[{}]},"mark":"rule","encoding":{"y":{"datum":"h2","type":"nominal","bandPosition":0.85}}}]},
{"width":11,"height":{"step":15.8},"data":{"values":[{}]},"mark":"rule","encoding":{"y":{"datum":"h2","type":"nominal","bandPosition":0.85,"scale":{"type":"band","domain":["h1","h2","Bilotta 2007","Bilotta 2008","Yang 2009","Coester 2010","Green 2010","NICE-SUGAR 2015","gap","Total (95% CI)","Total events","het","test","lab"],"paddingInner":0,"paddingOuter":0},"axis":null}}},
{"width":261,"height":{"step":15.8},"layer":[
{"data":{"name":"tC"},"transform":[{"filter":"datum.row=='h1'||datum.row=='h2'"}],"mark":{"type":"text","align":"center","stroke":"#1a1a1a","strokeWidth":0.5,"fontSize":11.6},"encoding":{"y":{"field":"row","type":"nominal","bandPosition":0.5,"scale":{"type":"band","domain":["h1","h2","Bilotta 2007","Bilotta 2008","Yang 2009","Coester 2010","Green 2010","NICE-SUGAR 2015","gap","Total (95% CI)","Total events"],"paddingInner":0,"paddingOuter":0.15,"align":0},"axis":null},"text":{"field":"ci"}}},
{"data":{"values":[{}]},"mark":"rule","encoding":{"y":{"datum":"h2","type":"nominal","bandPosition":0.85}}},
{"data":{"name":"fC"},"transform":[{"filter":"datum.wt>0"}],"mark":{"type":"rule","color":"#222"},"encoding":{"x":{"field":"lo","type":"quantitative","title":"IGC\u00a0\u00a0\u00a0\u00a0\u00a0CGC","scale":{"type":"log","domain":[0.01,100],"nice":false},"axis":{"values":[0.01,0.1,1,10,100],"format":"~g"}},"x2":{"field":"hi"},"y":{"field":"row","type":"nominal","bandPosition":0.5}}},
{"data":{"values":[{}]},"mark":{"type":"rule","color":"#555"},"encoding":{"x":{"datum":1,"type":"quantitative","title":"IGC\u00a0\u00a0\u00a0\u00a0\u00a0CGC"},"y":{"datum":"h2","type":"nominal","bandPosition":0.85},"y2":{"value":"height"}}},
{"data":{"name":"fC"},"transform":[{"filter":"datum.wt>0"}],"mark":{"type":"square","color":"#2a4aa8","opacity":1},"encoding":{"x":{"field":"est","type":"quantitative","title":"IGC\u00a0\u00a0\u00a0\u00a0\u00a0CGC"},"y":{"field":"row","type":"nominal","bandPosition":0.5},"size":{"field":"wt","type":"quantitative","scale":{"domain":[0,100],"range":[0,200]},"legend":null}}},
{"data":{"name":"dC"},"mark":{"type":"line","filled":true,"fill":"#000","stroke":"#000","strokeWidth":0.5,"clip":true},"encoding":{"x":{"field":"x","type":"quantitative","title":"IGC\u00a0\u00a0\u00a0\u00a0\u00a0CGC"},"y":{"field":"row","type":"nominal"},"yOffset":{"field":"v","type":"quantitative","scale":{"domain":[-1.3,1.3]}},"order":{"field":"k"}}}]},
{"width":10,"height":{"step":15.8},"data":{"values":[{}]},"mark":"rule","encoding":{"y":{"datum":"h2","type":"nominal","bandPosition":0.85,"scale":{"type":"band","domain":["h1","h2","Bilotta 2007","Bilotta 2008","Yang 2009","Coester 2010","Green 2010","NICE-SUGAR 2015","gap","Total (95% CI)","Total events","het","test","lab"],"paddingInner":0,"paddingOuter":0},"axis":null}}}
]},

{"spacing":0,"bounds":"flush","hconcat":[
{"width":134,"height":{"step":15.8},"data":{"name":"tD"},"layer":[
{"transform":[{"filter":"isValid(datum.study)&&datum.row!='lab'"}],"mark":{"type":"text","align":"left","dx":11,"stroke":"#1a1a1a","fontSize":11.7},"encoding":{"x":{"value":0},"y":{"field":"row","type":"nominal","bandPosition":0.5,"scale":{"type":"band","domain":["h1","h2","Bilotta 2007","Bilotta 2008","Yang 2009","Coester 2010","Green 2010","NICE-SUGAR 2015","gap","Total (95% CI)","Total events","het","test","lab"],"paddingInner":0,"paddingOuter":0.025,"align":0},"axis":null},"text":{"field":"study"},"strokeWidth":{"condition":{"test":"datum.row=='h2'||datum.row=='Total (95% CI)'","value":0.5},"value":0}}},
{"transform":[{"filter":"datum.row=='lab'"}],"mark":{"type":"text","align":"left","dx":11,"dy":2,"fontSize":13},"encoding":{"x":{"value":0},"y":{"field":"row","type":"nominal","bandPosition":0.5},"text":{"field":"study"}}},
{"data":{"values":[{}]},"mark":"rule","encoding":{"y":{"datum":"h2","type":"nominal","bandPosition":0.85}}}]},
{"width":37,"height":{"step":15.8},"data":{"name":"tD"},"layer":[
{"transform":[{"filter":"isValid(datum.e1)&&datum.row!='h1'"}],"mark":{"type":"text","align":"right","stroke":"#1a1a1a","fontSize":11.7},"encoding":{"x":{"value":"width"},"y":{"field":"row","type":"nominal","bandPosition":0.5,"scale":{"type":"band","domain":["h1","h2","Bilotta 2007","Bilotta 2008","Yang 2009","Coester 2010","Green 2010","NICE-SUGAR 2015","gap","Total (95% CI)","Total events","het","test","lab"],"paddingInner":0,"paddingOuter":0},"axis":null},"text":{"field":"e1"},"strokeWidth":{"condition":{"test":"datum.row=='h2'||datum.row=='Total (95% CI)'","value":0.5},"value":0}}},
{"data":{"values":[{}]},"mark":"rule","encoding":{"y":{"datum":"h2","type":"nominal","bandPosition":0.85}}}]},
{"width":37,"height":{"step":15.8},"data":{"name":"tD"},"layer":[
{"transform":[{"filter":"isValid(datum.n1)&&datum.row!='h1'"}],"mark":{"type":"text","align":"right","stroke":"#1a1a1a","fontSize":11.7},"encoding":{"x":{"value":"width"},"y":{"field":"row","type":"nominal","bandPosition":0.5,"scale":{"type":"band","domain":["h1","h2","Bilotta 2007","Bilotta 2008","Yang 2009","Coester 2010","Green 2010","NICE-SUGAR 2015","gap","Total (95% CI)","Total events","het","test","lab"],"paddingInner":0,"paddingOuter":0},"axis":null},"text":{"field":"n1"},"strokeWidth":{"condition":{"test":"datum.row=='h2'||datum.row=='Total (95% CI)'","value":0.5},"value":0}}},
{"transform":[{"filter":"datum.row=='h1'"}],"mark":{"type":"text","align":"center","dx":-5,"stroke":"#1a1a1a","strokeWidth":0.5,"fontSize":11.7},"encoding":{"x":{"value":0},"y":{"field":"row","type":"nominal","bandPosition":0.5},"text":{"field":"n1"}}},
{"data":{"values":[{}]},"mark":"rule","encoding":{"y":{"datum":"h2","type":"nominal","bandPosition":0.85}}}]},
{"width":47,"height":{"step":15.8},"data":{"name":"tD"},"layer":[
{"transform":[{"filter":"isValid(datum.e2)&&datum.row!='h1'"}],"mark":{"type":"text","align":"right","stroke":"#1a1a1a","fontSize":11.7},"encoding":{"x":{"value":"width"},"y":{"field":"row","type":"nominal","bandPosition":0.5,"scale":{"type":"band","domain":["h1","h2","Bilotta 2007","Bilotta 2008","Yang 2009","Coester 2010","Green 2010","NICE-SUGAR 2015","gap","Total (95% CI)","Total events","het","test","lab"],"paddingInner":0,"paddingOuter":0},"axis":null},"text":{"field":"e2"},"strokeWidth":{"condition":{"test":"datum.row=='h2'||datum.row=='Total (95% CI)'","value":0.5},"value":0}}},
{"data":{"values":[{}]},"mark":"rule","encoding":{"y":{"datum":"h2","type":"nominal","bandPosition":0.85}}}]},
{"width":38,"height":{"step":15.8},"data":{"name":"tD"},"layer":[
{"transform":[{"filter":"isValid(datum.n2)&&datum.row!='h1'"}],"mark":{"type":"text","align":"right","stroke":"#1a1a1a","fontSize":11.7},"encoding":{"x":{"value":"width"},"y":{"field":"row","type":"nominal","bandPosition":0.5,"scale":{"type":"band","domain":["h1","h2","Bilotta 2007","Bilotta 2008","Yang 2009","Coester 2010","Green 2010","NICE-SUGAR 2015","gap","Total (95% CI)","Total events","het","test","lab"],"paddingInner":0,"paddingOuter":0},"axis":null},"text":{"field":"n2"},"strokeWidth":{"condition":{"test":"datum.row=='h2'||datum.row=='Total (95% CI)'","value":0.5},"value":0}}},
{"transform":[{"filter":"datum.row=='h1'"}],"mark":{"type":"text","align":"center","dx":-4,"stroke":"#1a1a1a","strokeWidth":0.5,"fontSize":11.7},"encoding":{"x":{"value":0},"y":{"field":"row","type":"nominal","bandPosition":0.5},"text":{"field":"n2"}}},
{"data":{"values":[{}]},"mark":"rule","encoding":{"y":{"datum":"h2","type":"nominal","bandPosition":0.85}}}]},
{"width":49,"height":{"step":15.8},"data":{"name":"tD"},"layer":[
{"transform":[{"filter":"isValid(datum.w)&&datum.row!='h1'"}],"mark":{"type":"text","align":"right","stroke":"#1a1a1a","fontSize":11.7},"encoding":{"x":{"value":"width"},"y":{"field":"row","type":"nominal","bandPosition":0.5,"scale":{"type":"band","domain":["h1","h2","Bilotta 2007","Bilotta 2008","Yang 2009","Coester 2010","Green 2010","NICE-SUGAR 2015","gap","Total (95% CI)","Total events","het","test","lab"],"paddingInner":0,"paddingOuter":0},"axis":null},"text":{"field":"w"},"strokeWidth":{"condition":{"test":"datum.row=='h2'||datum.row=='Total (95% CI)'","value":0.5},"value":0}}},
{"data":{"values":[{}]},"mark":"rule","encoding":{"y":{"datum":"h2","type":"nominal","bandPosition":0.85}}}]},
{"width":126,"height":{"step":15.8},"data":{"name":"tD"},"layer":[
{"transform":[{"filter":"isValid(datum.ci)&&datum.row!='h1'&&datum.row!='h2'"}],"mark":{"type":"text","align":"right","stroke":"#1a1a1a","fontSize":11.7},"encoding":{"x":{"value":"width"},"y":{"field":"row","type":"nominal","bandPosition":0.5,"scale":{"type":"band","domain":["h1","h2","Bilotta 2007","Bilotta 2008","Yang 2009","Coester 2010","Green 2010","NICE-SUGAR 2015","gap","Total (95% CI)","Total events","het","test","lab"],"paddingInner":0,"paddingOuter":0},"axis":null},"text":{"field":"ci"},"strokeWidth":{"condition":{"test":"datum.row=='h2'||datum.row=='Total (95% CI)'","value":0.5},"value":0}}},
{"transform":[{"filter":"datum.row=='h1'||datum.row=='h2'"}],"mark":{"type":"text","align":"center","dx":3,"stroke":"#1a1a1a","strokeWidth":0.5,"fontSize":11.7},"encoding":{"y":{"field":"row","type":"nominal","bandPosition":0.5},"text":{"field":"ci"}}},
{"data":{"values":[{}]},"mark":"rule","encoding":{"y":{"datum":"h2","type":"nominal","bandPosition":0.85}}}]},
{"width":37,"height":{"step":15.8},"data":{"name":"tD"},"layer":[
{"transform":[{"filter":"isValid(datum.yr)&&datum.row!='h1'"}],"mark":{"type":"text","align":"right","stroke":"#1a1a1a","fontSize":11.7},"encoding":{"x":{"value":"width"},"y":{"field":"row","type":"nominal","bandPosition":0.5,"scale":{"type":"band","domain":["h1","h2","Bilotta 2007","Bilotta 2008","Yang 2009","Coester 2010","Green 2010","NICE-SUGAR 2015","gap","Total (95% CI)","Total events","het","test","lab"],"paddingInner":0,"paddingOuter":0},"axis":null},"text":{"field":"yr"},"strokeWidth":{"condition":{"test":"datum.row=='h2'||datum.row=='Total (95% CI)'","value":0.5},"value":0}}},
{"data":{"values":[{}]},"mark":"rule","encoding":{"y":{"datum":"h2","type":"nominal","bandPosition":0.85}}}]},
{"width":11,"height":{"step":15.8},"data":{"values":[{}]},"mark":"rule","encoding":{"y":{"datum":"h2","type":"nominal","bandPosition":0.85,"scale":{"type":"band","domain":["h1","h2","Bilotta 2007","Bilotta 2008","Yang 2009","Coester 2010","Green 2010","NICE-SUGAR 2015","gap","Total (95% CI)","Total events","het","test","lab"],"paddingInner":0,"paddingOuter":0},"axis":null}}},
{"width":262,"height":{"step":15.8},"layer":[
{"data":{"name":"tD"},"transform":[{"filter":"datum.row=='h1'||datum.row=='h2'"}],"mark":{"type":"text","align":"center","stroke":"#1a1a1a","strokeWidth":0.5,"fontSize":11.7},"encoding":{"y":{"field":"row","type":"nominal","bandPosition":0.5,"scale":{"type":"band","domain":["h1","h2","Bilotta 2007","Bilotta 2008","Yang 2009","Coester 2010","Green 2010","NICE-SUGAR 2015","gap","Total (95% CI)","Total events"],"paddingInner":0,"paddingOuter":0.12,"align":0},"axis":null},"text":{"field":"ci"}}},
{"data":{"values":[{}]},"mark":"rule","encoding":{"y":{"datum":"h2","type":"nominal","bandPosition":0.85}}},
{"data":{"name":"fD"},"transform":[{"filter":"datum.wt>0"}],"mark":{"type":"rule","color":"#222"},"encoding":{"x":{"field":"lo","type":"quantitative","title":"IGC\u00a0\u00a0\u00a0\u00a0\u00a0CGC","scale":{"type":"log","domain":[0.01,100],"nice":false},"axis":{"values":[0.01,0.1,1,10,100],"format":"~g"}},"x2":{"field":"hi"},"y":{"field":"row","type":"nominal","bandPosition":0.5}}},
{"data":{"values":[{}]},"mark":{"type":"rule","color":"#555"},"encoding":{"x":{"datum":1,"type":"quantitative","title":"IGC\u00a0\u00a0\u00a0\u00a0\u00a0CGC"},"y":{"datum":"h2","type":"nominal","bandPosition":0.85},"y2":{"value":"height"}}},
{"data":{"name":"fD"},"transform":[{"filter":"datum.wt>0"}],"mark":{"type":"square","color":"#2a4aa8","opacity":1},"encoding":{"x":{"field":"est","type":"quantitative","title":"IGC\u00a0\u00a0\u00a0\u00a0\u00a0CGC"},"y":{"field":"row","type":"nominal","bandPosition":0.5},"size":{"field":"wt","type":"quantitative","scale":{"domain":[0,100],"range":[0,200]},"legend":null}}},
{"data":{"name":"dD"},"mark":{"type":"line","filled":true,"fill":"#000","stroke":"#000","strokeWidth":0.5,"clip":true},"encoding":{"x":{"field":"x","type":"quantitative","title":"IGC\u00a0\u00a0\u00a0\u00a0\u00a0CGC"},"y":{"field":"row","type":"nominal"},"yOffset":{"field":"v","type":"quantitative","scale":{"domain":[-1.3,1.3]}},"order":{"field":"k"}}}]},
{"width":10,"height":{"step":15.8},"data":{"values":[{}]},"mark":"rule","encoding":{"y":{"datum":"h2","type":"nominal","bandPosition":0.85,"scale":{"type":"band","domain":["h1","h2","Bilotta 2007","Bilotta 2008","Yang 2009","Coester 2010","Green 2010","NICE-SUGAR 2015","gap","Total (95% CI)","Total events","het","test","lab"],"paddingInner":0,"paddingOuter":0},"axis":null}}}
]},

{"spacing":0,"bounds":"flush","hconcat":[
{"width":125,"height":{"step":15.8},"data":{"name":"tE"},"layer":[
{"transform":[{"filter":"isValid(datum.study)&&datum.row!='lab'"}],"mark":{"type":"text","align":"left","dx":11,"stroke":"#1a1a1a","fontSize":11.2},"encoding":{"x":{"value":0},"y":{"field":"row","type":"nominal","bandPosition":0.5,"scale":{"type":"band","domain":["h1","h2","Bilotta 2007","Yang 2009","Green 2010","NICE-SUGAR 2015","Wang 2017","gap","Total (95% CI)","het","test","lab"],"paddingInner":0,"paddingOuter":0},"axis":null},"text":{"field":"study"},"strokeWidth":{"condition":{"test":"datum.row=='h2'||datum.row=='Total (95% CI)'","value":0.5},"value":0}}},
{"transform":[{"filter":"datum.row=='lab'"}],"mark":{"type":"text","align":"left","dx":11,"dy":0,"fontSize":13},"encoding":{"x":{"value":0},"y":{"field":"row","type":"nominal","bandPosition":0.5},"text":{"field":"study"}}},
{"data":{"values":[{}]},"mark":"rule","encoding":{"y":{"datum":"h2","type":"nominal","bandPosition":0.85}}}]},
{"width":32,"height":{"step":15.8},"data":{"name":"tE"},"layer":[
{"transform":[{"filter":"isValid(datum.m1)&&datum.row!='h1'"}],"mark":{"type":"text","align":"right","stroke":"#1a1a1a","fontSize":11.2},"encoding":{"x":{"value":"width"},"y":{"field":"row","type":"nominal","bandPosition":0.5,"scale":{"type":"band","domain":["h1","h2","Bilotta 2007","Yang 2009","Green 2010","NICE-SUGAR 2015","Wang 2017","gap","Total (95% CI)","het","test","lab"],"paddingInner":0,"paddingOuter":0},"axis":null},"text":{"field":"m1"},"strokeWidth":{"condition":{"test":"datum.row=='h2'||datum.row=='Total (95% CI)'","value":0.5},"value":0}}},
{"data":{"values":[{}]},"mark":"rule","encoding":{"y":{"datum":"h2","type":"nominal","bandPosition":0.85}}}]},
{"width":32,"height":{"step":15.8},"data":{"name":"tE"},"layer":[
{"transform":[{"filter":"isValid(datum.s1)&&datum.row!='h1'"}],"mark":{"type":"text","align":"right","stroke":"#1a1a1a","fontSize":11.2},"encoding":{"x":{"value":"width"},"y":{"field":"row","type":"nominal","bandPosition":0.5,"scale":{"type":"band","domain":["h1","h2","Bilotta 2007","Yang 2009","Green 2010","NICE-SUGAR 2015","Wang 2017","gap","Total (95% CI)","het","test","lab"],"paddingInner":0,"paddingOuter":0},"axis":null},"text":{"field":"s1"},"strokeWidth":{"condition":{"test":"datum.row=='h2'||datum.row=='Total (95% CI)'","value":0.5},"value":0}}},
{"transform":[{"filter":"datum.row=='h1'"}],"mark":{"type":"text","align":"center","dx":-3,"stroke":"#1a1a1a","strokeWidth":0.5,"fontSize":11.2},"encoding":{"y":{"field":"row","type":"nominal","bandPosition":0.5},"text":{"field":"s1"}}},
{"data":{"values":[{}]},"mark":"rule","encoding":{"y":{"datum":"h2","type":"nominal","bandPosition":0.85}}}]},
{"width":36,"height":{"step":15.8},"data":{"name":"tE"},"layer":[
{"transform":[{"filter":"isValid(datum.n1)&&datum.row!='h1'"}],"mark":{"type":"text","align":"right","stroke":"#1a1a1a","fontSize":11.2},"encoding":{"x":{"value":"width"},"y":{"field":"row","type":"nominal","bandPosition":0.5,"scale":{"type":"band","domain":["h1","h2","Bilotta 2007","Yang 2009","Green 2010","NICE-SUGAR 2015","Wang 2017","gap","Total (95% CI)","het","test","lab"],"paddingInner":0,"paddingOuter":0},"axis":null},"text":{"field":"n1"},"strokeWidth":{"condition":{"test":"datum.row=='h2'||datum.row=='Total (95% CI)'","value":0.5},"value":0}}},
{"data":{"values":[{}]},"mark":"rule","encoding":{"y":{"datum":"h2","type":"nominal","bandPosition":0.85}}}]},
{"width":38,"height":{"step":15.8},"data":{"name":"tE"},"layer":[
{"transform":[{"filter":"isValid(datum.m2)&&datum.row!='h1'"}],"mark":{"type":"text","align":"right","stroke":"#1a1a1a","fontSize":11.2},"encoding":{"x":{"value":"width"},"y":{"field":"row","type":"nominal","bandPosition":0.5,"scale":{"type":"band","domain":["h1","h2","Bilotta 2007","Yang 2009","Green 2010","NICE-SUGAR 2015","Wang 2017","gap","Total (95% CI)","het","test","lab"],"paddingInner":0,"paddingOuter":0},"axis":null},"text":{"field":"m2"},"strokeWidth":{"condition":{"test":"datum.row=='h2'||datum.row=='Total (95% CI)'","value":0.5},"value":0}}},
{"data":{"values":[{}]},"mark":"rule","encoding":{"y":{"datum":"h2","type":"nominal","bandPosition":0.85}}}]},
{"width":25,"height":{"step":15.8},"data":{"name":"tE"},"layer":[
{"transform":[{"filter":"isValid(datum.s2)&&datum.row!='h1'"}],"mark":{"type":"text","align":"right","stroke":"#1a1a1a","fontSize":11.2},"encoding":{"x":{"value":"width"},"y":{"field":"row","type":"nominal","bandPosition":0.5,"scale":{"type":"band","domain":["h1","h2","Bilotta 2007","Yang 2009","Green 2010","NICE-SUGAR 2015","Wang 2017","gap","Total (95% CI)","het","test","lab"],"paddingInner":0,"paddingOuter":0},"axis":null},"text":{"field":"s2"},"strokeWidth":{"condition":{"test":"datum.row=='h2'||datum.row=='Total (95% CI)'","value":0.5},"value":0}}},
{"transform":[{"filter":"datum.row=='h1'"}],"mark":{"type":"text","align":"center","dx":-2,"stroke":"#1a1a1a","strokeWidth":0.5,"fontSize":11.2},"encoding":{"y":{"field":"row","type":"nominal","bandPosition":0.5},"text":{"field":"s2"}}},
{"data":{"values":[{}]},"mark":"rule","encoding":{"y":{"datum":"h2","type":"nominal","bandPosition":0.85}}}]},
{"width":36,"height":{"step":15.8},"data":{"name":"tE"},"layer":[
{"transform":[{"filter":"isValid(datum.n2)&&datum.row!='h1'"}],"mark":{"type":"text","align":"right","stroke":"#1a1a1a","fontSize":11.2},"encoding":{"x":{"value":"width"},"y":{"field":"row","type":"nominal","bandPosition":0.5,"scale":{"type":"band","domain":["h1","h2","Bilotta 2007","Yang 2009","Green 2010","NICE-SUGAR 2015","Wang 2017","gap","Total (95% CI)","het","test","lab"],"paddingInner":0,"paddingOuter":0},"axis":null},"text":{"field":"n2"},"strokeWidth":{"condition":{"test":"datum.row=='h2'||datum.row=='Total (95% CI)'","value":0.5},"value":0}}},
{"data":{"values":[{}]},"mark":"rule","encoding":{"y":{"datum":"h2","type":"nominal","bandPosition":0.85}}}]},
{"width":47,"height":{"step":15.8},"data":{"name":"tE"},"layer":[
{"transform":[{"filter":"isValid(datum.w)&&datum.row!='h1'"}],"mark":{"type":"text","align":"right","stroke":"#1a1a1a","fontSize":11.2},"encoding":{"x":{"value":"width"},"y":{"field":"row","type":"nominal","bandPosition":0.5,"scale":{"type":"band","domain":["h1","h2","Bilotta 2007","Yang 2009","Green 2010","NICE-SUGAR 2015","Wang 2017","gap","Total (95% CI)","het","test","lab"],"paddingInner":0,"paddingOuter":0},"axis":null},"text":{"field":"w"},"strokeWidth":{"condition":{"test":"datum.row=='h2'||datum.row=='Total (95% CI)'","value":0.5},"value":0}}},
{"data":{"values":[{}]},"mark":"rule","encoding":{"y":{"datum":"h2","type":"nominal","bandPosition":0.85}}}]},
{"width":111,"height":{"step":15.8},"data":{"name":"tE"},"layer":[
{"transform":[{"filter":"isValid(datum.ci)&&datum.row!='h1'&&datum.row!='h2'"}],"mark":{"type":"text","align":"right","stroke":"#1a1a1a","fontSize":11.2},"encoding":{"x":{"value":"width"},"y":{"field":"row","type":"nominal","bandPosition":0.5,"scale":{"type":"band","domain":["h1","h2","Bilotta 2007","Yang 2009","Green 2010","NICE-SUGAR 2015","Wang 2017","gap","Total (95% CI)","het","test","lab"],"paddingInner":0,"paddingOuter":0},"axis":null},"text":{"field":"ci"},"strokeWidth":{"condition":{"test":"datum.row=='h2'||datum.row=='Total (95% CI)'","value":0.5},"value":0}}},
{"transform":[{"filter":"datum.row=='h1'||datum.row=='h2'"}],"mark":{"type":"text","align":"center","dx":2,"stroke":"#1a1a1a","strokeWidth":0.5,"fontSize":11.2},"encoding":{"y":{"field":"row","type":"nominal","bandPosition":0.5},"text":{"field":"ci"}}},
{"data":{"values":[{}]},"mark":"rule","encoding":{"y":{"datum":"h2","type":"nominal","bandPosition":0.85}}}]},
{"width":35,"height":{"step":15.8},"data":{"name":"tE"},"layer":[
{"transform":[{"filter":"isValid(datum.yr)&&datum.row!='h1'"}],"mark":{"type":"text","align":"right","stroke":"#1a1a1a","fontSize":11.2},"encoding":{"x":{"value":"width"},"y":{"field":"row","type":"nominal","bandPosition":0.5,"scale":{"type":"band","domain":["h1","h2","Bilotta 2007","Yang 2009","Green 2010","NICE-SUGAR 2015","Wang 2017","gap","Total (95% CI)","het","test","lab"],"paddingInner":0,"paddingOuter":0},"axis":null},"text":{"field":"yr"},"strokeWidth":{"condition":{"test":"datum.row=='h2'||datum.row=='Total (95% CI)'","value":0.5},"value":0}}},
{"data":{"values":[{}]},"mark":"rule","encoding":{"y":{"datum":"h2","type":"nominal","bandPosition":0.85}}}]},
{"width":11,"height":{"step":15.8},"data":{"values":[{}]},"mark":"rule","encoding":{"y":{"datum":"h2","type":"nominal","bandPosition":0.85,"scale":{"type":"band","domain":["h1","h2","Bilotta 2007","Yang 2009","Green 2010","NICE-SUGAR 2015","Wang 2017","gap","Total (95% CI)","het","test","lab"],"paddingInner":0,"paddingOuter":0},"axis":null}}},
{"width":250,"height":{"step":15.8},"layer":[
{"data":{"name":"tE"},"transform":[{"filter":"datum.row=='h1'||datum.row=='h2'"}],"mark":{"type":"text","align":"center","stroke":"#1a1a1a","strokeWidth":0.5,"fontSize":11.2},"encoding":{"y":{"field":"row","type":"nominal","bandPosition":0.5,"scale":{"type":"band","domain":["h1","h2","Bilotta 2007","Yang 2009","Green 2010","NICE-SUGAR 2015","Wang 2017","gap","Total (95% CI)"],"paddingInner":0,"paddingOuter":0.05,"align":0},"axis":null},"text":{"field":"ci"}}},
{"data":{"values":[{}]},"mark":"rule","encoding":{"y":{"datum":"h2","type":"nominal","bandPosition":0.85}}},
{"data":{"name":"fE"},"transform":[{"filter":"datum.wt>0"}],"mark":{"type":"rule","color":"#222"},"encoding":{"x":{"field":"lo","type":"quantitative","title":"IGC\u00a0\u00a0\u00a0\u00a0\u00a0CGC","scale":{"domain":[-100,100],"nice":false,"zero":false},"axis":{"values":[-100,-50,0,50,100],"labelExpr":"toString(datum.value)"}},"x2":{"field":"hi"},"y":{"field":"row","type":"nominal","bandPosition":0.5}}},
{"data":{"values":[{}]},"mark":{"type":"rule","color":"#555"},"encoding":{"x":{"datum":0,"type":"quantitative","title":"IGC\u00a0\u00a0\u00a0\u00a0\u00a0CGC"},"y":{"datum":"h2","type":"nominal","bandPosition":0.85},"y2":{"value":"height"}}},
{"data":{"name":"fE"},"transform":[{"filter":"datum.wt>0"}],"mark":{"type":"square","color":"#2fb54d","opacity":1},"encoding":{"x":{"field":"est","type":"quantitative","title":"IGC\u00a0\u00a0\u00a0\u00a0\u00a0CGC"},"y":{"field":"row","type":"nominal","bandPosition":0.5},"size":{"field":"wt","type":"quantitative","scale":{"domain":[0,100],"range":[0,200]},"legend":null}}},
{"data":{"name":"dE"},"mark":{"type":"line","filled":true,"fill":"#000","stroke":"#000","strokeWidth":0.5,"clip":true},"encoding":{"x":{"field":"x","type":"quantitative","title":"IGC\u00a0\u00a0\u00a0\u00a0\u00a0CGC"},"y":{"field":"row","type":"nominal"},"yOffset":{"field":"v","type":"quantitative","scale":{"domain":[-1.3,1.3]}},"order":{"field":"k"}}}]},
{"width":10,"height":{"step":15.8},"data":{"values":[{}]},"mark":"rule","encoding":{"y":{"datum":"h2","type":"nominal","bandPosition":0.85,"scale":{"type":"band","domain":["h1","h2","Bilotta 2007","Yang 2009","Green 2010","NICE-SUGAR 2015","Wang 2017","gap","Total (95% CI)","het","test","lab"],"paddingInner":0,"paddingOuter":0},"axis":null}}}
]}
],
"config":{
"view":{"stroke":null},
"text":{"font":"Liberation Sans","fontSize":12.4,"color":"#1a1a1a","baseline":"middle"},
"rule":{"color":"#333","strokeWidth":1},
"axis":{"grid":false,"domainColor":"#333","tickColor":"#333","tickSize":4,"labelFont":"Liberation Sans","labelFontSize":12.4,"labelColor":"#1a1a1a","labelPadding":1,"titleFont":"Liberation Sans","titleFontSize":12.4,"titleFontWeight":"normal","titleColor":"#333","titlePadding":2}
}
}
